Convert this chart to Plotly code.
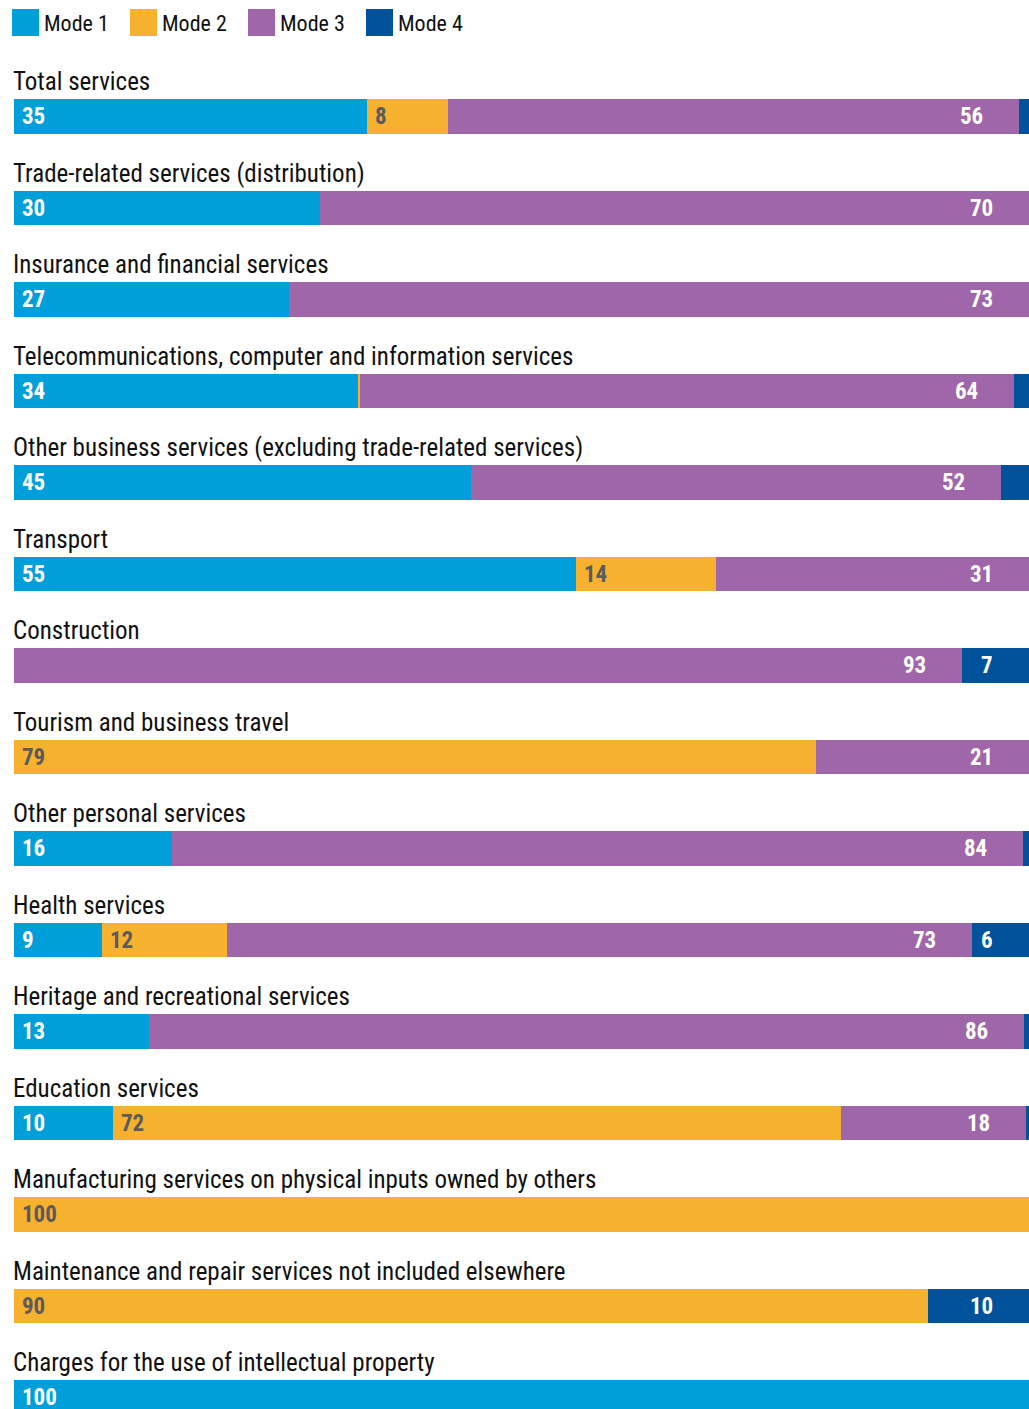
import plotly.graph_objects as go

# Share of services trade by mode of supply, per sector (%)
categories = [
    "Total services",
    "Trade-related services (distribution)",
    "Insurance and financial services",
    "Telecommunications, computer and information services",
    "Other business services (excluding trade-related services)",
    "Transport",
    "Construction",
    "Tourism and business travel",
    "Other personal services",
    "Health services",
    "Heritage and recreational services",
    "Education services",
    "Manufacturing services on physical inputs owned by others",
    "Maintenance and repair services not included elsewhere",
    "Charges for the use of intellectual property",
]
mode1 = [34.8, 30.1, 27.1, 33.9, 45.0, 55.4, 0.0, 0.0, 15.6, 8.7, 13.3, 9.8, 0.0, 0.0, 100.0]
mode2 = [8.0, 0.0, 0.0, 0.2, 0.0, 13.8, 0.0, 79.0, 0.0, 12.3, 0.0, 71.7, 100.0, 90.0, 0.0]
mode3 = [56.2, 69.9, 72.9, 64.4, 52.2, 30.8, 93.4, 21.0, 83.8, 73.4, 86.2, 18.2, 0.0, 0.0, 0.0]
mode4 = [1.0, 0.0, 0.0, 1.5, 2.8, 0.0, 6.6, 0.0, 0.6, 5.6, 0.5, 0.3, 0.0, 10.0, 0.0]

mode_names = ["Mode 1", "Mode 2", "Mode 3", "Mode 4"]
mode_colors = ["#009FDA", "#F6B12F", "#A066AA", "#00529B"]
label_colors = ["#FFFFFF", "#5B5B5B", "#FFFFFF", "#FFFFFF"]
label_side = ["start", "start", "end", "end"]

FONT = "Liberation Sans Narrow, Roboto Condensed, DejaVu Sans Condensed, Arial Narrow, sans-serif"

W, H = 1029, 1409
ML, MT = 14, 54
PLOT_W, PLOT_H = W - ML, H - MT

series = [mode1, mode2, mode3, mode4]
rows = list(range(len(categories)))

fig = go.Figure()
for name, vals, col in zip(mode_names, series, mode_colors):
    fig.add_trace(go.Bar(
        x=vals, y=rows, orientation="h", name=name,
        marker=dict(color=col, line=dict(width=0)),
        width=0.377, showlegend=False, hoverinfo="skip",
    ))

annotations = []
# category titles above each bar
for r, cat in zip(rows, categories):
    annotations.append(dict(
        x=0, y=r, xref="x", yref="y", text=cat, showarrow=False,
        xanchor="left", yanchor="bottom", yshift=18, xshift=-3,
        font=dict(family=FONT, size=25, color="#111111"),
    ))

# value labels inside the segments
for m, vals in enumerate(series):
    for r in rows:
        start = sum(series[k][r] for k in range(m))
        v = vals[r]
        if v < 5:
            continue
        if label_side[m] == "start":
            xpos, anchor, shift = start, "left", 7
        else:
            xpos, anchor, shift = start + v, "right", -35
        annotations.append(dict(
            x=xpos, y=r, xref="x", yref="y", text=f"<b>{v:.0f}</b>",
            showarrow=False, xanchor=anchor, yanchor="middle", xshift=shift,
            height=22, borderpad=0,
            font=dict(family=FONT, size=23, color=label_colors[m]),
        ))

# legend drawn along the top edge
def px_x(p):
    return (p - ML) / PLOT_W

def px_y(p):
    return (H - p) / PLOT_H

shapes = []
sw_left = [12, 130, 248, 366]
for name, col, left in zip(mode_names, mode_colors, sw_left):
    shapes.append(dict(
        type="rect", xref="paper", yref="paper",
        x0=px_x(left), x1=px_x(left + 27), y0=px_y(36), y1=px_y(9),
        fillcolor=col, line=dict(width=0),
    ))
    annotations.append(dict(
        x=px_x(left + 30), y=px_y(23), xref="paper", yref="paper",
        text=name, showarrow=False, xanchor="left", yanchor="middle",
        font=dict(family=FONT, size=22, color="#111111"),
    ))

first_center = 116.25
step = 91.5
fig.update_layout(
    width=W, height=H,
    margin=dict(l=ML, r=0, t=MT, b=0, pad=0),
    barmode="stack", bargap=0,
    plot_bgcolor="white", paper_bgcolor="white",
    xaxis=dict(range=[0, 100], visible=False, fixedrange=True),
    yaxis=dict(
        range=[14 + (H - (first_center + 14 * step)) / step, -(first_center - MT) / step],
        visible=False, fixedrange=True,
    ),
    annotations=annotations, shapes=shapes,
    showlegend=False,
)

fig.write_html("out.html")
